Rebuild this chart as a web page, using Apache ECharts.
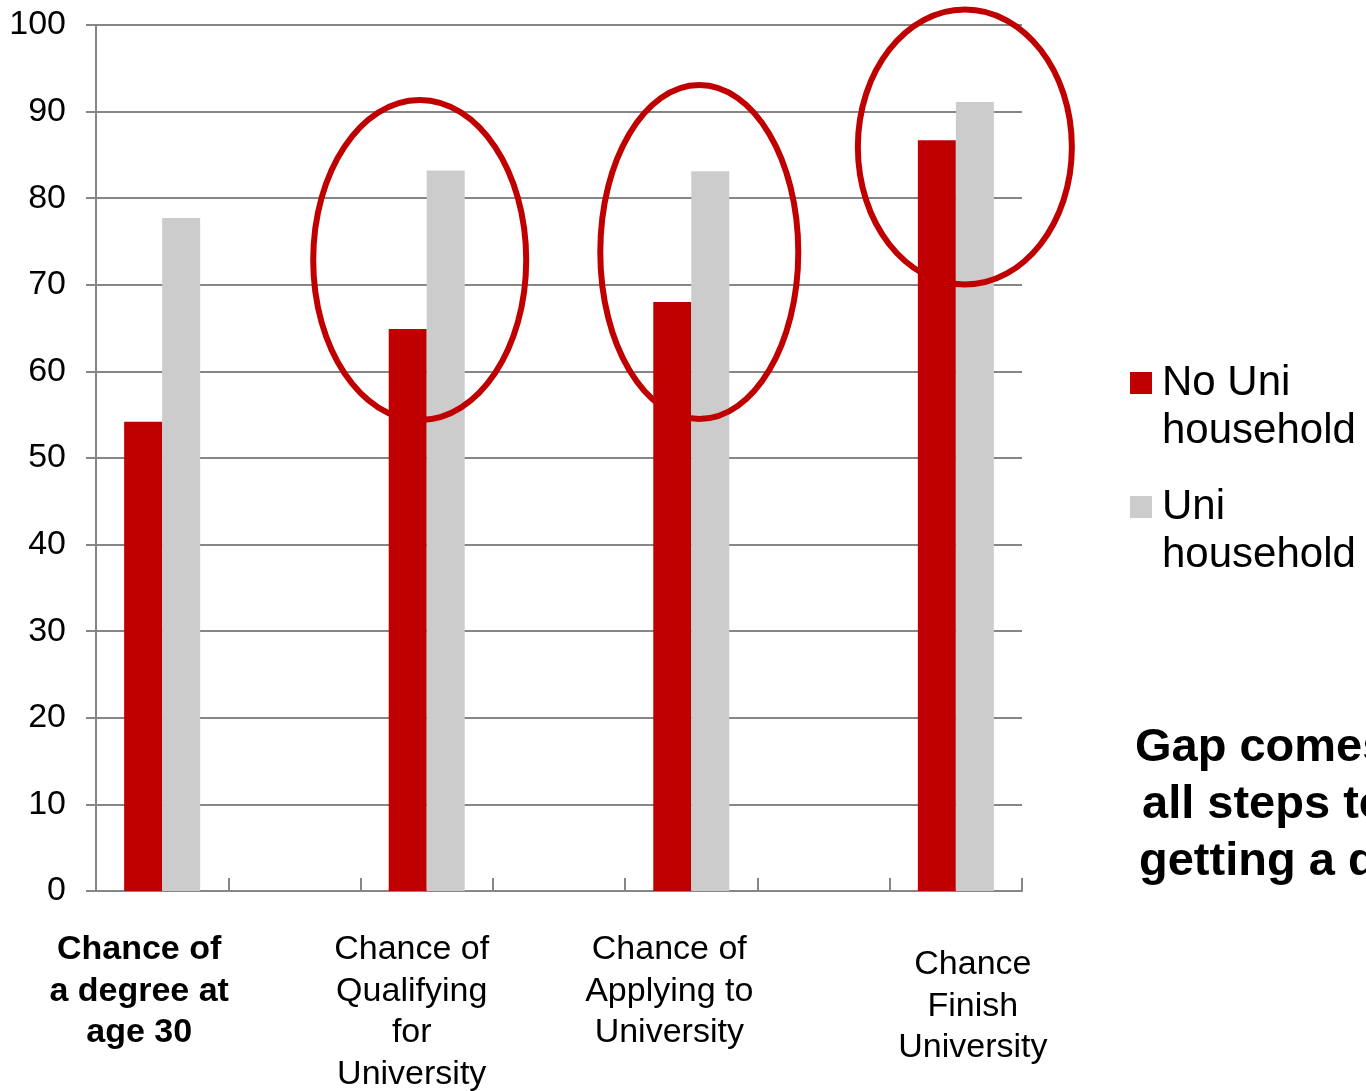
<!DOCTYPE html>
<html>
<head>
<meta charset="utf-8">
<script src="https://cdn.jsdelivr.net/npm/echarts@6/dist/echarts.min.js"></script>
<style>
  html, body { margin: 0; padding: 0; background: #ffffff; overflow: hidden; }
  #chart { width: 1366px; height: 1091px; }
</style>
</head>
<body>
<div id="chart"></div>
<script>
// Seven category slots: the four steps, with empty spacer slots between them
const categories = [
  'Chance of\na degree at\nage 30', '',
  'Chance of\nQualifying\nfor\nUniversity', '',
  'Chance of\nApplying to\nUniversity', '',
  'Chance\nFinish\nUniversity'
];
const seriesNames = ['No Uni household', 'Uni household'];
const noUniValues = [54.2, null, 64.9, null, 68.0, null, 86.7];
const uniValues   = [77.7, null, 83.2, null, 83.1, null, 91.1];
const yMin = 0, yMax = 100, yInterval = 10;
const noteLines = ['Gap comes from', 'all steps to', 'getting a degree'];

// Placement of the category captions under the axis (offset from slot centre)
const captionPlacement = [
  { slot: 0, dx: -23, top: 929, bold: true },
  { slot: 2, dx: -15, top: 929, bold: false },
  { slot: 4, dx: -22, top: 929, bold: false },
  { slot: 6, dx: 17,  top: 944, bold: false }
];
// Highlight rings round the last three steps
const rings = [
  { slot: 2, dx: -7, cy: 260, rx: 106.5, ry: 160 },
  { slot: 4, dx: 8,  cy: 252, rx: 99,    ry: 167 },
  { slot: 6, dx: 9,  cy: 147, rx: 107,   ry: 137.5 }
];
// Left edge of each line of the side note
const noteIndent = [1135, 1142, 1139];

const RED = '#C00000';
const GREY = '#CCCCCC';
const AXIS = '#868686';
const FONT = '"Liberation Sans", Arial, sans-serif';

const chart = echarts.init(document.getElementById('chart'), null, { renderer: 'canvas' });

chart.setOption({
  animation: false,
  backgroundColor: '#ffffff',
  textStyle: { fontFamily: FONT },
  grid: { left: 96, right: 344, top: 25, bottom: 200, containLabel: false },
  legend: {
    orient: 'vertical',
    left: 1130,
    top: 311,
    padding: 0,
    itemWidth: 22,
    itemHeight: 22,
    itemGap: -20,
    icon: 'rect',
    data: seriesNames,
    // leading blank line keeps the marker level with the first text line
    formatter: name => '\n' + name.replace(' household', '\nhousehold'),
    textStyle: {
      fontFamily: FONT, fontSize: 42, lineHeight: 48, color: '#000',
      padding: [0, 0, 0, 5]
    }
  },
  xAxis: {
    type: 'category',
    data: categories,
    boundaryGap: true,
    axisLine: { lineStyle: { color: AXIS, width: 2 } },
    axisTick: { show: true, inside: true, length: 13, interval: 0, lineStyle: { color: AXIS, width: 2 } },
    axisLabel: { show: false },
    splitLine: { show: false }
  },
  yAxis: {
    type: 'value',
    min: yMin, max: yMax, interval: yInterval,
    axisLine: { show: true, lineStyle: { color: AXIS, width: 2 } },
    axisTick: { show: true, inside: false, length: 10, lineStyle: { color: AXIS, width: 2 } },
    axisLabel: { color: '#000', fontSize: 34, fontFamily: FONT, margin: 30 },
    splitLine: { show: true, lineStyle: { color: AXIS, width: 2 } }
  },
  series: [
    {
      name: seriesNames[0], type: 'bar', data: noUniValues,
      barWidth: 38, barGap: '0%',
      itemStyle: { color: RED }
    },
    {
      name: seriesNames[1], type: 'bar', data: uniValues,
      barWidth: 38, barGap: '0%',
      itemStyle: { color: GREY }
    }
  ]
});

// Captions and annotations positioned from the category scale
const slotX = i => chart.convertToPixel({ xAxisIndex: 0 }, i);

const graphics = [];
captionPlacement.forEach((c, k) => {
  graphics.push({
    type: 'text',
    id: 'caption' + k,
    x: slotX(c.slot) + c.dx,
    y: c.top,
    z: 10,
    style: {
      text: categories[c.slot],
      fontFamily: FONT,
      fontSize: 34,
      fontWeight: c.bold ? 'bold' : 'normal',
      lineHeight: 41.5,
      fill: '#000',
      align: 'center',
      verticalAlign: 'top'
    }
  });
});
rings.forEach((r, k) => {
  graphics.push({
    type: 'ellipse',
    id: 'ring' + k,
    z: 20,
    shape: { cx: slotX(r.slot) + r.dx, cy: r.cy, rx: r.rx, ry: r.ry },
    style: { fill: 'none', stroke: RED, lineWidth: 6 }
  });
});
noteLines.forEach((line, k) => {
  graphics.push({
    type: 'text',
    id: 'note' + k,
    x: noteIndent[k],
    y: 720 + k * 57,
    z: 10,
    style: {
      text: line,
      fontFamily: FONT,
      fontSize: 47,
      fontWeight: 'bold',
      lineHeight: 57,
      fill: '#000',
      align: 'left',
      verticalAlign: 'top'
    }
  });
});

chart.setOption({ graphic: graphics });
</script>
</body>
</html>
